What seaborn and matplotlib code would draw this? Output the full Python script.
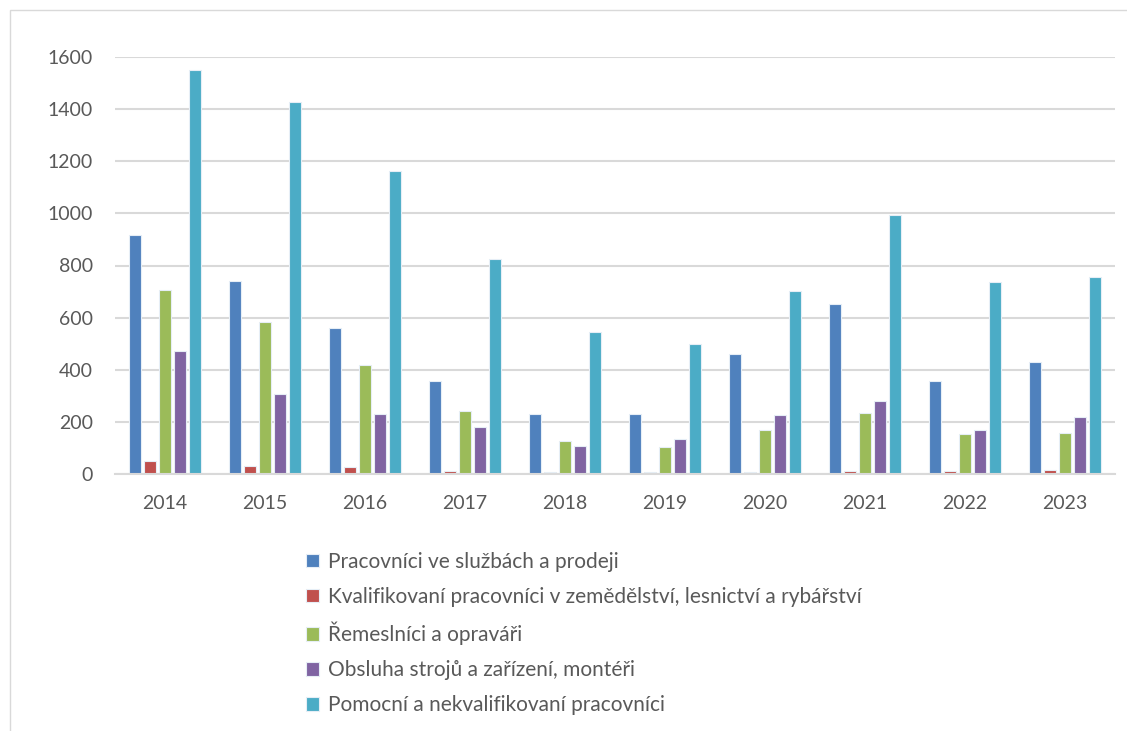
import matplotlib
matplotlib.use('Agg')
import matplotlib.pyplot as plt
from matplotlib.patches import Rectangle
import pandas as pd
import seaborn as sns

years = ['2014', '2015', '2016', '2017', '2018', '2019', '2020', '2021', '2022', '2023']
series = [
    'Pracovníci ve službách a prodeji',
    'Kvalifikovaní pracovníci v zemědělství, lesnictví a rybářství',
    'Řemeslníci a opraváři',
    'Obsluha strojů a zařízení, montéři',
    'Pomocní a nekvalifikovaní pracovníci',
]
sluzby = [917, 741, 560, 357, 230, 230, 460, 652, 357, 430]
zemedelstvi = [48, 31, 27, 11, 7, 6, 6, 10, 10, 17]
remeslnici = [706, 583, 418, 242, 127, 104, 169, 234, 153, 157]
obsluha = [472, 307, 230, 180, 107, 134, 226, 280, 169, 219]
pomocni = [1550, 1427, 1163, 825, 545, 499, 702, 994, 737, 756]
colors = ['#4F81BD', '#C0504D', '#9BBB59', '#8064A2', '#4BACC6']

rows = []
for name, vals in zip(series, [sluzby, zemedelstvi, remeslnici, obsluha, pomocni]):
    for y, v in zip(years, vals):
        rows.append({'rok': y, 'skupina': name, 'pocet': v})
df = pd.DataFrame(rows)

sns.set_style('white')
plt.rcParams['font.family'] = ['Lato', 'DejaVu Sans']

fig = plt.figure(figsize=(11.27, 7.31), dpi=100)
ax = fig.add_axes([115 / 1127, 1 - 474 / 731, 1000 / 1127, 417 / 731])

sns.barplot(data=df, x='rok', y='pocet', hue='skupina', hue_order=series,
            palette=colors, saturation=1, width=0.75, gap=0.2, ax=ax, legend=True,
            edgecolor='#E6EEF6', linewidth=0.8)

ax.set_ylim(0, 1600)
ax.set_yticks(range(0, 1601, 200))
ax.set_xlim(-0.5, 9.5)
ax.yaxis.grid(True, color='#D9D9D9', linewidth=1.5)
ax.set_axisbelow(True)
for s in ['left', 'right', 'top']:
    ax.spines[s].set_visible(False)
ax.spines['bottom'].set_color('#D9D9D9')
ax.spines['bottom'].set_linewidth(1.5)
ax.tick_params(axis='both', length=0, labelsize=14, colors='#595959')
ax.tick_params(axis='y', pad=16)
ax.tick_params(axis='x', pad=15)
ax.set_xlabel('')
ax.set_ylabel('')

handles, labels = ax.get_legend_handles_labels()
ax.get_legend().remove()
fig.legend(handles, labels, loc='upper left', bbox_to_anchor=(287 / 1127, 1 - 533 / 731),
           frameon=False, fontsize=15, handlelength=0.62, handleheight=0.62,
           handletextpad=0.45, labelspacing=0.72, labelcolor='#595959')

fig.patches.append(Rectangle((10 / 1127, -0.05), 1.1, 1 - 10 / 731 + 0.05,
                             transform=fig.transFigure, fill=False,
                             edgecolor='#D9D9D9', linewidth=1))

fig.savefig('out.png', dpi=100)
